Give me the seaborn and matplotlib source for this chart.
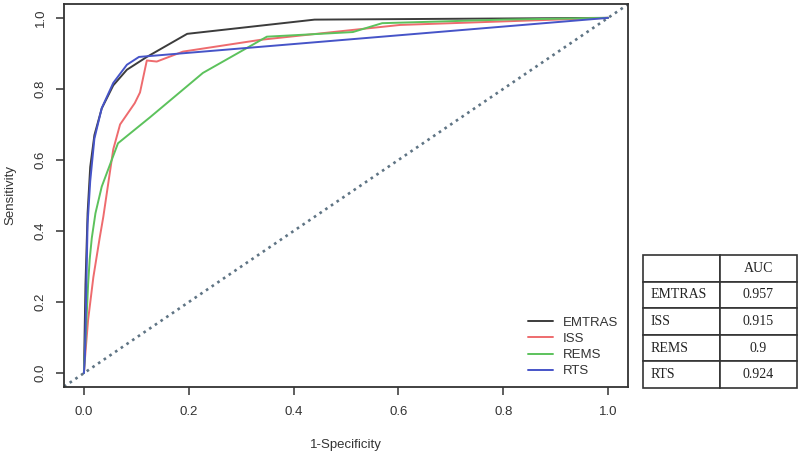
import numpy as np
import matplotlib
matplotlib.use("Agg")
import matplotlib.pyplot as plt
import seaborn as sns
import pandas as pd

sns.set_style("white")
plt.rcParams['font.family'] = ['Liberation Sans', 'DejaVu Sans']

# ROC curves (1-specificity, sensitivity)
models = ['EMTRAS', 'ISS', 'REMS', 'RTS']

emtras_fpr = [0, 0.003, 0.007, 0.012, 0.02, 0.034, 0.056, 0.082, 0.12, 0.197, 0.44, 1.0]
emtras_tpr = [0, 0.25, 0.45, 0.58, 0.67, 0.745, 0.81, 0.854, 0.89, 0.955, 0.995, 1.0]

iss_fpr = [0, 0.003, 0.008, 0.018, 0.03, 0.037, 0.045, 0.056, 0.069, 0.097, 0.107, 0.12, 0.139, 0.189, 0.336, 0.513, 0.603, 0.8, 1.0]
iss_tpr = [0, 0.06, 0.15, 0.27, 0.38, 0.44, 0.52, 0.63, 0.70, 0.76, 0.79, 0.88, 0.877, 0.905, 0.938, 0.966, 0.98, 0.99, 1.0]

rems_fpr = [0, 0.004, 0.008, 0.011, 0.015, 0.022, 0.034, 0.05, 0.065, 0.126, 0.227, 0.349, 0.513, 0.569, 0.8, 1.0]
rems_tpr = [0, 0.12, 0.25, 0.32, 0.38, 0.45, 0.525, 0.588, 0.647, 0.72, 0.845, 0.947, 0.96, 0.985, 0.995, 1.0]

rts_fpr = [0, 0.002, 0.004, 0.007, 0.012, 0.02, 0.034, 0.056, 0.082, 0.105, 1.0]
rts_tpr = [0, 0.05, 0.2, 0.42, 0.54, 0.66, 0.746, 0.817, 0.868, 0.89, 1.0]

auc_values = ['0.957', '0.915', '0.9', '0.924']
colors = ['#3c3c3c', '#ee6b6e', '#5cc25c', '#4654c8']

df = pd.concat([
    pd.DataFrame({'fpr': emtras_fpr, 'tpr': emtras_tpr, 'model': 'EMTRAS'}),
    pd.DataFrame({'fpr': iss_fpr, 'tpr': iss_tpr, 'model': 'ISS'}),
    pd.DataFrame({'fpr': rems_fpr, 'tpr': rems_tpr, 'model': 'REMS'}),
    pd.DataFrame({'fpr': rts_fpr, 'tpr': rts_tpr, 'model': 'RTS'}),
], ignore_index=True)

fig = plt.figure(figsize=(8, 4.54), dpi=100)
ax = fig.add_axes([0.08, 0.1476, 0.705, 0.8436])

ax.axline((0, 0), (1, 1), color='#5f7484', lw=1.9, ls=(0, (1, 1.6)), zorder=1)
sns.lineplot(data=df, x='fpr', y='tpr', hue='model', hue_order=models,
             palette=colors, sort=False, estimator=None, lw=1.4, ax=ax)

ax.set_xlim(-0.038, 1.038)
ax.set_ylim(-0.039, 1.039)
ticks = [0, 0.2, 0.4, 0.6, 0.8, 1.0]
ax.set_xticks(ticks)
ax.set_yticks(ticks)
ax.set_xticklabels(['0.0', '0.2', '0.4', '0.6', '0.8', '1.0'])
ax.set_yticklabels(['0.0', '0.2', '0.4', '0.6', '0.8', '1.0'], rotation=90, va='center')
ax.tick_params(axis='both', direction='out', length=5.5, width=1.1,
               color='#333333', labelsize=9.5, labelcolor='#333333',
               bottom=True, left=True)
ax.tick_params(axis='x', pad=8)
ax.tick_params(axis='y', pad=7)
for s in ax.spines.values():
    s.set_color('#333333')
    s.set_linewidth(1.3)
ax.set_xlabel('1-Specificity', fontsize=9.5, color='#333333', labelpad=15)
ax.set_ylabel('Sensitivity', fontsize=9.5, color='#333333', labelpad=13)

handles, labels = ax.get_legend_handles_labels()
ax.legend(handles, labels, loc='lower right', bbox_to_anchor=(0.995, 0.008),
          frameon=False, fontsize=9.5, handlelength=1.9, handletextpad=0.8,
          labelspacing=0.3, borderpad=0, labelcolor='#333333')

# AUC table
ax_t = fig.add_axes([0.804, 0.1454, 0.192, 0.2929])
ax_t.axis('off')
cell_text = [[m, a] for m, a in zip(models, auc_values)]
tbl = ax_t.table(cellText=cell_text, colLabels=['', 'AUC'],
                 cellLoc='center', bbox=[0, 0, 1, 1])
tbl.auto_set_font_size(False)
tbl.set_fontsize(10)
for (r, c), cell in tbl.get_celld().items():
    cell.set_edgecolor('#333333')
    cell.set_linewidth(1.2)
    cell.set_text_props(fontfamily='Liberation Serif', color='#222222')
    if c == 0 and r > 0:
        cell.set_text_props(ha='left')

fig.savefig('out.png', dpi=100)
